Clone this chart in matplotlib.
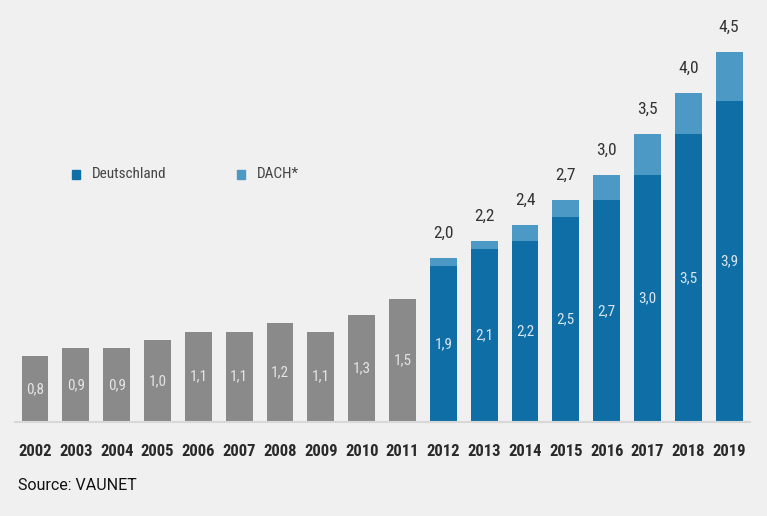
import matplotlib.pyplot as plt
from matplotlib import font_manager

years = [str(y) for y in range(2002, 2020)]
# gray bars (2002-2011), Deutschland only
early = [0.8, 0.9, 0.9, 1.0, 1.1, 1.1, 1.2, 1.1, 1.3, 1.5]
# 2012-2019
deutschland = [1.9, 2.1, 2.2, 2.5, 2.7, 3.0, 3.5, 3.9]
dach_total = [2.0, 2.2, 2.4, 2.7, 3.0, 3.5, 4.0, 4.5]

names = {f.name for f in font_manager.fontManager.ttflist}
narrow = 'DejaVu Sans'
for cand in ['Liberation Sans Narrow', 'Roboto Condensed', 'Open Sans Condensed']:
    if cand in names:
        narrow = cand
        break
cond = dict(family=narrow, fontstretch='condensed')

bg = '#f0f0f0'
gray = '#8a8a8a'
dark = '#0f6ea6'
light = '#4b99c4'

fig = plt.figure(figsize=(7.67, 5.16), dpi=100, facecolor=bg)
ax = fig.add_axes([15 / 767, 94 / 516, 735 / 767, 411 / 516])
ax.set_facecolor(bg)

n_early = len(early)
x_early = list(range(n_early))
x_late = list(range(n_early, n_early + len(deutschland)))
w = 0.66

ax.bar(x_early, early, width=w, color=gray)
ax.bar(x_late, deutschland, width=w, color=dark)
rest = [t - d for t, d in zip(dach_total, deutschland)]
ax.bar(x_late, rest, bottom=deutschland, width=w, color=light)

def fmt(v):
    return f'{v:.1f}'.replace('.', ',')

for x, v in zip(x_early, early):
    ax.text(x, v / 2, fmt(v), ha='center', va='center', color='#e4e4e4',
            fontsize=11, **cond)
for x, d, t in zip(x_late, deutschland, dach_total):
    ax.text(x, d / 2, fmt(d), ha='center', va='center', color='#d8e6ef',
            fontsize=11, **cond)
    ax.text(x, t + 0.3, fmt(t), ha='center', va='center', color='#333333',
            fontsize=12.5, **cond)

ax.set_xlim(-0.49, 17.51)
ax.set_ylim(0, 5)
ax.set_xticks(range(len(years)))
ax.set_xticklabels(years, fontsize=12, color='#2a2a2a', fontweight='bold', **cond)
ax.tick_params(axis='x', length=0, pad=16)
ax.set_yticks([])
for s in ['top', 'left', 'right']:
    ax.spines[s].set_visible(False)
ax.spines['bottom'].set_color('#d8d8d8')
ax.spines['bottom'].set_linewidth(1.5)

# legend
fig.patches.append(plt.Rectangle((72 / 767, 1 - 179 / 516), 8 / 767, 9 / 516,
                                 transform=fig.transFigure, color=dark))
fig.text(92 / 767, 1 - 174 / 516, 'Deutschland', fontsize=11,
         color='#444444', va='center', **cond)
fig.patches.append(plt.Rectangle((237 / 767, 1 - 179 / 516), 8 / 767, 9 / 516,
                                 transform=fig.transFigure, color=light))
fig.text(257 / 767, 1 - 174 / 516, 'DACH*', fontsize=11,
         color='#444444', va='center', **cond)

fig.text(18 / 767, 1 - 485 / 516, 'Source: VAUNET', fontsize=11.5, family='Roboto',
         color='#111111', va='center')

plt.savefig('out.png', dpi=100, facecolor=bg)
